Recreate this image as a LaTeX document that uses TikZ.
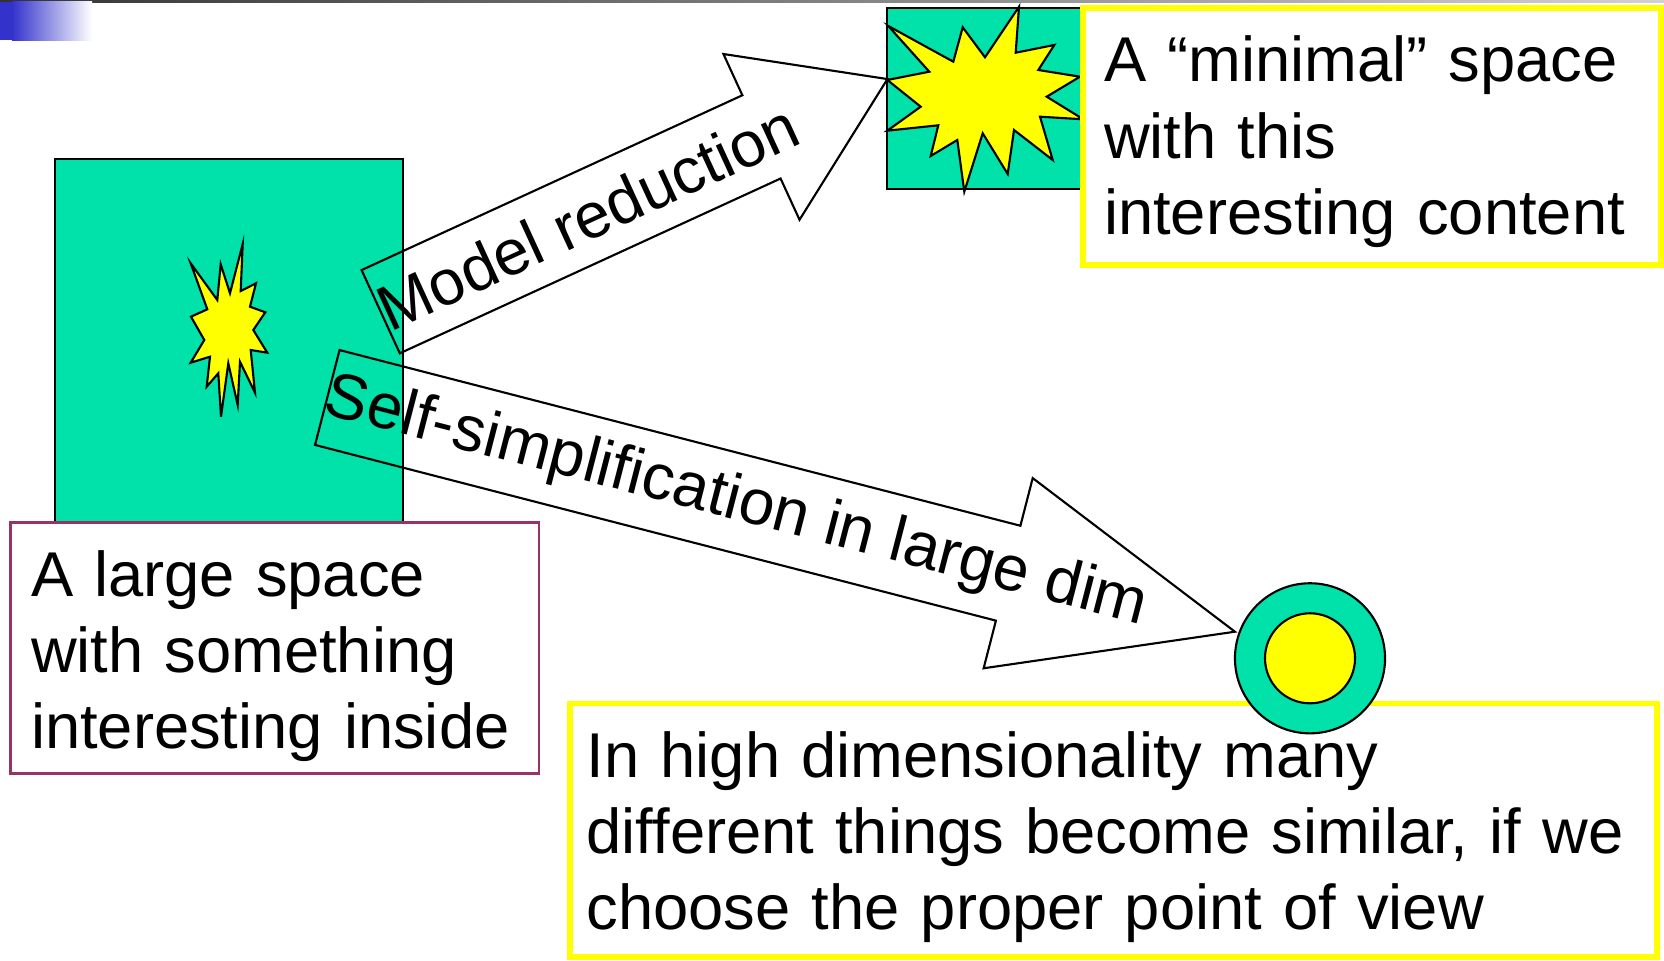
\documentclass[tikz,border=0pt]{standalone}
\usepackage{fontspec}
\setmainfont{Liberation Sans}
\usetikzlibrary{positioning, calc}
\definecolor{sgreen}{HTML}{00E2AA}
\definecolor{syellow}{HTML}{FFFF00}
\definecolor{spink}{HTML}{993366}
\definecolor{sblue}{HTML}{3333CC}
\tikzset{
  spacebox/.style={draw=black, fill=sgreen, line width=0.6pt, inner sep=0pt,
                   outer sep=0pt, anchor=north west},
  ybox/.style={draw=syellow, line width=1.7pt, fill=white, inner sep=0pt,
               outer sep=0pt, anchor=north west},
  pkbox/.style={draw=spink, line width=0.7pt, fill=white, inner sep=0pt,
                outer sep=0pt, anchor=north west},
  boom/.style={draw=black, fill=syellow, line width=0.6pt, line join=miter},
  blockarr/.style={draw=black, line width=0.6pt, line join=miter},
  txt/.style={font=\fontsize{18}{21.7}\selectfont, inner sep=0pt,
              align=left, anchor=base west},
  arrtxt/.style={font=\fontsize{18.2}{21.7}\selectfont, inner sep=0pt},
}
\begin{document}
\begin{tikzpicture}[x=0.01cm, y=-0.01cm]
  \useasboundingbox (0,0) rectangle (1664,961);
  % slide decoration
  \shade[left color=black!80, right color=black!18] (0,0) rectangle (1664,2.5);
  \fill[sblue] (0,2) rectangle (12,40);
  \shade[left color=sblue, right color=white] (12,2) rectangle (92,41);

  % large space
  \node[spacebox, minimum width=3.475cm, minimum height=3.627cm] (bigspace) at (55.3,159) {};
  \draw[boom] (242.7,244) -- (240.7,291) -- (256,283.3) -- (250,306.7) -- (265.3,312.3)
    -- (253.3,330) -- (267.3,352.7) -- (250.7,350) -- (255,392.7) -- (240,361.7)
    -- (237.7,405) -- (228.3,363.3) -- (221,416.7) -- (218.3,373.3) -- (206.7,386.7)
    -- (210,356.7) -- (190.7,362.7) -- (204.3,340) -- (191,316.7) -- (207.3,309.3)
    -- (190.7,263.3) -- (217.3,300) -- (220.7,264.3) -- (230,293.3) -- cycle;
  \node[pkbox, minimum width=5.286cm, minimum height=2.506cm] (bigbox) at (10.3,522.7) {};
  \node[txt, text width=5cm] (bigtxt) at ($(bigbox.north west)+(20,73.3)$)
    {A large space\\with something\\interesting inside};

  % minimal space
  \node[spacebox, minimum width=1.963cm, minimum height=1.813cm] (minspace) at (886.7,8) {};
  \draw[boom] (887.3,80) -- (929.3,71.7) -- (888.3,26) -- (953.3,61.7) -- (962.7,27.3)
    -- (985,57.3) -- (1019,6.7) -- (1015.7,52.7) -- (1054.3,45) -- (1038.3,70)
    -- (1080,76.7) -- (1046.7,96.7) -- (1083.3,119.3) -- (1040,116.7) -- (1052.7,160)
    -- (1014,130) -- (1007.7,174) -- (982.7,133.3) -- (964.3,191.7) -- (957.3,140)
    -- (930.7,156) -- (938.3,125.3) -- (887.3,130.7) -- (920.7,106.7) -- cycle;
  \node[ybox, minimum width=5.78cm, minimum height=2.567cm] (minbox) at (1083,8.3) {};
  \node[txt, text width=5.4cm] (mintxt) at ($(minbox.north west)+(20.4,73.4)$)
    {A “minimal” space\\with this\\interesting content};

  % similar things
  \node[ybox, minimum width=10.86cm, minimum height=2.535cm] (simbox) at (570,703.5) {};
  \node[txt, text width=10.6cm] (simtxt) at ($(simbox.north west)+(16,73.8)$)
    {In high dimensionality many\\different things become similar, if we\\choose the proper point of view};
  \node[circle, draw=black, fill=sgreen, line width=0.6pt, minimum size=1.5cm,
        inner sep=0pt] (pt) at (1310,658.3) {};
  \node[circle, draw=black, fill=syellow, line width=0.6pt, minimum size=0.9cm,
        inner sep=0pt] (ptcore) at (pt.center) {};

  % block arrows
  \begin{scope}[shift={(380.7,311.7)}, rotate=24.66]
    \draw[blockarr] (0,-45.8) -- (419,-45.8) -- (419,-91.2) -- (557.6,0) coordinate (mrtip)
      -- (419,91.2) -- (419,45.8) -- (0,45.8) -- cycle;
    \node[arrtxt, transform shape] (mrlabel) at (228,0) {Model reduction};
  \end{scope}
  \begin{scope}[shift={(327.3,397.5)}, rotate=-14.47]
    \draw[blockarr] (0,-49) -- (703.2,-49) -- (703.2,-98.2) -- (937.4,0) coordinate (sstip)
      -- (703.2,98.2) -- (703.2,49) -- (0,49) -- cycle;
    \node[arrtxt, transform shape] (sslabel) at (422,0) {Self-simplification in large dim};
  \end{scope}
\end{tikzpicture}
\end{document}
